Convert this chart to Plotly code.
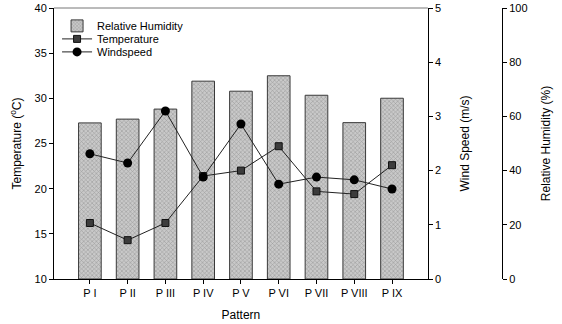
import plotly.graph_objects as go

patterns = ["P I", "P II", "P III", "P IV", "P V", "P VI", "P VII", "P VIII", "P IX"]
humidity = [57.6, 59.0, 62.7, 73.0, 69.3, 75.0, 67.8, 57.7, 66.7]
temperature = [16.2, 14.3, 16.2, 21.4, 22.0, 24.7, 19.7, 19.4, 22.6]
windspeed = [2.31, 2.14, 3.10, 1.88, 2.86, 1.75, 1.88, 1.83, 1.66]

font = dict(family="Liberation Sans, Arial, sans-serif", color="black")

fig = go.Figure()
fig.add_trace(go.Bar(
    x=patterns, y=humidity, name="Relative Humidity", yaxis="y", width=0.6, legend="legend",
    marker=dict(color="#c9c9c9", line=dict(color="#3a3a3a", width=1),
                pattern=dict(shape="x", size=3, solidity=0.35, fgcolor="#707070")),
))
fig.add_trace(go.Scatter(
    x=patterns, y=temperature, name="Temperature", yaxis="y2", mode="lines+markers",
    legend="legend2",
    line=dict(color="#222", width=1),
    marker=dict(symbol="square", size=7, color="#3c3c3c", line=dict(color="#111", width=1)),
))
fig.add_trace(go.Scatter(
    x=patterns, y=windspeed, name="Windspeed", yaxis="y3", mode="lines+markers",
    legend="legend3",
    line=dict(color="#222", width=1),
    marker=dict(symbol="circle", size=9, color="black"),
))

leg = dict(x=0.006, xanchor="left", yanchor="middle", bgcolor="rgba(0,0,0,0)",
           font=dict(size=11, **font), itemwidth=30, borderwidth=0)

fig.update_layout(
    width=562, height=324,
    margin=dict(l=54, r=0, t=8, b=45),
    paper_bgcolor="white", plot_bgcolor="white",
    font=dict(size=11, **font),
    showlegend=True,
    legend=dict(y=0.934, **leg),
    legend2=dict(y=0.886, **leg),
    legend3=dict(y=0.838, **leg),
    xaxis=dict(domain=[0, 0.736], range=[-0.95, 8.95], showline=True, linecolor="black",
               linewidth=1, ticks="outside", ticklen=4, tickcolor="black", showgrid=False,
               title=dict(text="Pattern", font=dict(size=12, **font), standoff=12),
               tickfont=dict(size=11, **font)),
    yaxis=dict(range=[0, 100], anchor="free", position=0.882, side="right",
               showline=True, linecolor="black", linewidth=1, ticks="outside", ticklen=4,
               tickcolor="black", dtick=20, showgrid=False, zeroline=False,
               title=dict(text="Relative Humidity (%)", font=dict(size=12, **font), standoff=14)),
    yaxis2=dict(range=[10, 40], overlaying="y", side="left", anchor="x",
                showline=True, linecolor="black", linewidth=1, ticks="outside", ticklen=4,
                tickcolor="black", dtick=5, showgrid=False, zeroline=False,
                title=dict(text="Temperature (<sup>o</sup>C)", font=dict(size=12, **font), standoff=10)),
    yaxis3=dict(range=[0, 5], overlaying="y", side="right", anchor="x",
                showline=True, linecolor="black", linewidth=1, ticks="outside", ticklen=4,
                tickcolor="black", dtick=1, showgrid=False, zeroline=False,
                title=dict(text="Wind Speed (m/s)", font=dict(size=12, **font), standoff=20)),
    bargap=0.4,
    shapes=[dict(type="line", xref="x domain", yref="y domain", x0=0, x1=1, y0=1, y1=1,
                 line=dict(color="#777", width=1))],
)

fig.write_html("out.html")
